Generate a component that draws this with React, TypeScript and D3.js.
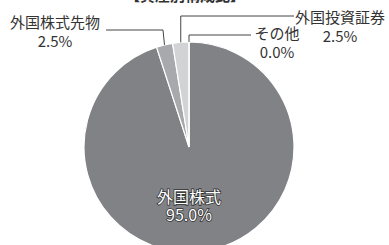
import React from "react";
import * as d3 from "d3";

const categories = ["外国株式", "外国株式先物", "外国投資証券", "その他"];
const values = [95.0, 2.5, 2.5, 0.0];
const colors = ["#818286", "#a8a9ac", "#d2d3d5", "#d2d3d5"];

const W = 389;
const H = 245;
const cx = 189;
const cy = 147;
const R = 105;
const FONT = "'Noto Sans CJK JP', 'Noto Sans', sans-serif";

// leader line / text placement for the small slices
const outside = [
  null,
  { elbowX: -26, elbowY: 30, endX: 106, textX: 55, textY: 28, anchor: "middle" },
  { elbowX: null, elbowY: 16, endX: 294, textX: 340, textY: 23, anchor: "middle" },
  { elbowX: null, elbowY: 35, endX: 251, textX: 277, textY: 39, anchor: "middle" },
];

const App = () => {
  const pie = d3.pie<number>().sort(null).value((d) => d);
  const arcs = pie(values);
  const arc = d3.arc<d3.PieArcDatum<number>>().innerRadius(0).outerRadius(R);

  return (
    <svg width={W} height={H} style={{ position: "absolute", left: 0, top: 0, background: "#fff" }}>
      <text x={185} y={1} textAnchor="middle" fontFamily={FONT} fontSize={15} fontWeight="bold" fill="#333">
        【資産別構成比】
      </text>
      <g transform={`translate(${cx},${cy})`}>
        {arcs.map((a, i) => (
          <path key={i} d={arc(a) || ""} fill={colors[i]} stroke="#fff" strokeWidth={1.2} />
        ))}
      </g>
      {arcs.map((a, i) => {
        const o = outside[i];
        if (!o) return null;
        const mid = (a.startAngle + a.endAngle) / 2;
        const px = cx + R * Math.sin(mid);
        const py = cy - R * Math.cos(mid);
        const ex = o.elbowX == null ? px : cx + o.elbowX;
        const pts = [[px, py], [ex, o.elbowY], [o.endX, o.elbowY]];
        return (
          <g key={i}>
            <path d={d3.line()(pts as [number, number][]) || ""} fill="none" stroke="#444" strokeWidth={1} />
            <text x={o.textX} y={o.textY} textAnchor={o.anchor} fontFamily={FONT} fontSize={15} fill="#333">
              {categories[i]}
            </text>
            <text x={o.textX} y={o.textY + 19} textAnchor={o.anchor} fontFamily={FONT} fontSize={15} fill="#333">
              {values[i].toFixed(1)}%
            </text>
          </g>
        );
      })}
      <g fontFamily={FONT} fontSize={16} textAnchor="middle" fill="#fff" stroke="#333" strokeWidth={1.6} style={{ paintOrder: "stroke" }}>
        <text x={cx} y={203}>{categories[0]}</text>
        <text x={cx} y={221}>{values[0].toFixed(1)}%</text>
      </g>
    </svg>
  );
};

export default App;
